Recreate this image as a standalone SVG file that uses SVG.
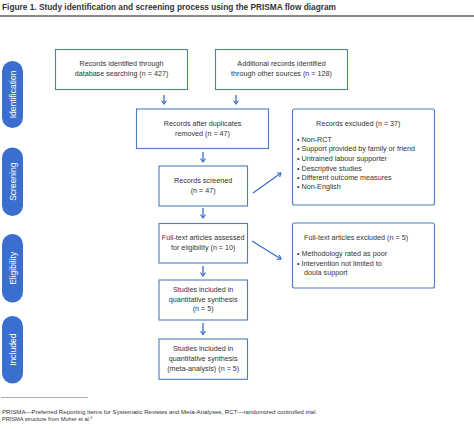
<svg xmlns="http://www.w3.org/2000/svg" width="474" height="429" viewBox="0 0 474 429">
<defs>
<style>
.box{fill:#fff;stroke:#4d7cc0;stroke-width:1.1}
.pill{fill:#3a6fd0}
.t{font-family:"Liberation Sans",Arial,sans-serif;font-size:7.2px;fill:#333}
.c{text-anchor:middle}
.pt{font-family:"Liberation Sans",Arial,sans-serif;font-size:8.5px;fill:#fff;text-anchor:middle}
.arr{stroke:#3a6fc8;stroke-width:1.3;fill:none;marker-end:url(#ah)}
.fn{font-family:"Liberation Sans",Arial,sans-serif;font-size:5.6px;fill:#333}
</style>
<marker id="ah" markerWidth="6" markerHeight="6" refX="4" refY="3" orient="auto" markerUnits="userSpaceOnUse">
<path d="M0.5,0.5 L4,3 L0.5,5.5" fill="none" stroke="#3a6fc8" stroke-width="1.2"/>
</marker>
</defs>
<rect width="474" height="429" fill="#fff"/>
<g id="title">
<text x="2" y="10" font-family="'Liberation Sans',Arial,sans-serif" font-size="8.2" font-weight="bold" fill="#333" textLength="334" lengthAdjust="spacingAndGlyphs">Figure 1. Study identification and screening process using the PRISMA flow diagram</text>
<rect x="0" y="15" width="474" height="2" fill="#8a8a80"/>
</g>
<g id="phase-identification"><rect class="pill" x="2" y="61" width="21" height="67" rx="10.5"/><text class="pt" transform="translate(15.5,94.5) rotate(-90)">Identification</text></g>
<g id="phase-screening"><rect class="pill" x="2" y="147.5" width="21" height="68.5" rx="10.5"/><text class="pt" transform="translate(15.5,181.7) rotate(-90)">Screening</text></g>
<g id="phase-eligibility"><rect class="pill" x="2" y="234" width="21" height="68.5" rx="10.5"/><text class="pt" transform="translate(15.5,268.3) rotate(-90)">Eligibility</text></g>
<g id="phase-included"><rect class="pill" x="2" y="316" width="21" height="67.5" rx="10.5"/><text class="pt" transform="translate(15.5,349.7) rotate(-90)">Included</text></g>

<g id="n-db"><rect class="box" x="55.5" y="49.5" width="132" height="40"/>
<text class="t c" x="121.5" y="66">Records identified through</text>
<text class="t c" x="121.5" y="76">database searching (n = 427)</text></g>
<g id="n-other"><rect class="box" x="215.5" y="49.5" width="132" height="40"/>
<text class="t c" x="281.5" y="66">Additional records identified</text>
<text class="t c" x="281.5" y="76">through other sources (n = 128)</text></g>
<g id="n-dup"><rect class="box" x="136.5" y="109" width="132" height="39.5"/>
<text class="t c" x="202.5" y="126">Records after duplicates</text>
<text class="t c" x="202.5" y="135.7">removed (n = 47)</text></g>
<g id="n-screened"><rect class="box" x="159" y="166" width="88.5" height="40"/>
<text class="t c" x="203.2" y="183.4">Records screened</text>
<text class="t c" x="203.2" y="193">(n = 47)</text></g>
<g id="n-excl"><rect class="box" x="292.5" y="109" width="142" height="96" rx="2"/>
<text class="t" x="316" y="126">Records excluded (n = 37)</text>
<text class="t" x="297" y="141.7">• Non-RCT</text>
<text class="t" x="297" y="151.3">• Support provided by family or friend</text>
<text class="t" x="297" y="161">• Untrained labour supporter</text>
<text class="t" x="297" y="170.6">• Descriptive studies</text>
<text class="t" x="297" y="180">• Different outcome measures</text>
<text class="t" x="297" y="189.4">• Non-English</text></g>
<g id="n-fulltext"><rect class="box" x="159" y="223.5" width="88.5" height="39.5"/>
<text class="t c" x="203.2" y="240.4">Full-text articles assessed</text>
<text class="t c" x="203.2" y="250.4">for eligibility (n = 10)</text></g>
<g id="n-ftexcl"><rect class="box" x="292.5" y="223" width="142" height="65" rx="2"/>
<text class="t" x="304" y="240.4">Full-text articles excluded (n = 5)</text>
<text class="t" x="297" y="256">• Methodology rated as poor</text>
<text class="t" x="297" y="265.7">• Intervention not limited to</text>
<text class="t" x="304" y="275.4">doula support</text></g>
<g id="n-qual"><rect class="box" x="159" y="280" width="88.5" height="40"/>
<text class="t c" x="203.2" y="292">Studies included in</text>
<text class="t c" x="203.2" y="301.7">quantitative synthesis</text>
<text class="t c" x="203.2" y="311.4">(n = 5)</text></g>
<g id="n-meta"><rect class="box" x="159" y="339" width="88.5" height="40.3"/>
<text class="t c" x="203.2" y="351">Studies included in</text>
<text class="t c" x="203.2" y="361">quantitative synthesis</text>
<text class="t c" x="203.2" y="371">(meta-analysis) (n = 5)</text></g>

<g id="connectors">
<line class="arr" x1="164" y1="95" x2="164" y2="104"/>
<line class="arr" x1="236" y1="95" x2="236" y2="104"/>
<line class="arr" x1="203" y1="152" x2="203" y2="162"/>
<line class="arr" x1="203" y1="208" x2="203" y2="218"/>
<line class="arr" x1="203" y1="266" x2="203" y2="276"/>
<line class="arr" x1="203" y1="323" x2="203" y2="334.5"/>
<line class="arr" x1="253" y1="193" x2="281" y2="173"/>
<line class="arr" x1="252" y1="241" x2="281" y2="259"/>
</g>

<g id="footnote">
<rect x="1" y="397" width="87" height="0.8" fill="#999"/>
<text class="fn" x="2" y="413.6" textLength="315" lengthAdjust="spacingAndGlyphs">PRISMA—Preferred Reporting Items for Systematic Reviews and Meta-Analyses, RCT—randomized controlled trial.</text>
<text class="fn" x="2" y="420.6">PRISMA structure from Moher et al.<tspan font-size="3.5" dy="-2">4</tspan></text>
</g>
</svg>
